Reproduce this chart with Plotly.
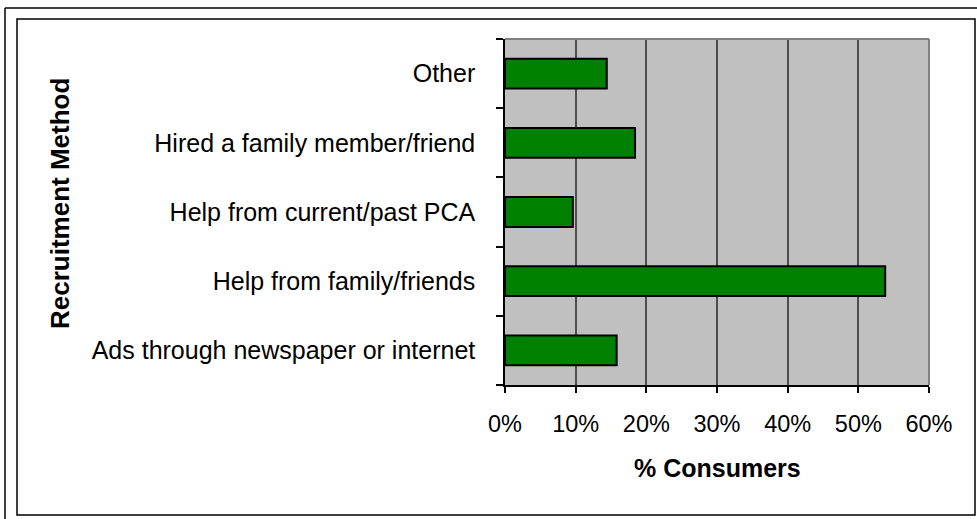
import plotly.graph_objects as go

categories = ["Ads through newspaper or internet", "Help from family/friends",
              "Help from current/past PCA", "Hired a family member/friend", "Other"]
values = [0.158, 0.538, 0.096, 0.184, 0.144]
x_ticks = [0, 0.1, 0.2, 0.3, 0.4, 0.5, 0.6]
x_tick_labels = ["0%", "10%", "20%", "30%", "40%", "50%", "60%"]

W, H = 977, 519
L, R, T, B = 505, 48, 39, 134
pw, ph = W - L - R, H - T - B

def px(x):
    return (x - L) / pw

def py(y):
    return 1 - (y - T) / ph

FONT = "Liberation Sans, Arial, sans-serif"

fig = go.Figure(go.Bar(
    y=categories, x=values, orientation="h",
    marker=dict(color="#008000", line=dict(color="#000000", width=2)),
    width=0.43,
))

shapes = []
shapes.append(dict(type="line", xref="paper", yref="paper", x0=0, x1=1, y0=1, y1=1,
                   line=dict(color="#808080", width=2)))
shapes.append(dict(type="line", xref="paper", yref="paper", x0=1, x1=1, y0=0, y1=1,
                   line=dict(color="#808080", width=2)))
shapes.append(dict(type="rect", xref="paper", yref="paper",
                   x0=px(17), x1=px(975), y0=py(515), y1=py(19),
                   line=dict(color="#000000", width=1.5), layer="below"))
shapes.append(dict(type="line", xref="paper", yref="paper",
                   x0=px(5), x1=px(977), y0=py(8), y1=py(8),
                   line=dict(color="#000000", width=1.5)))
shapes.append(dict(type="line", xref="paper", yref="paper",
                   x0=px(5), x1=px(5), y0=py(8), y1=py(519),
                   line=dict(color="#000000", width=1.5)))

fig.update_layout(
    width=W, height=H,
    margin=dict(l=L, r=R, t=T, b=B),
    paper_bgcolor="#ffffff",
    plot_bgcolor="#C0C0C0",
    showlegend=False,
    font=dict(family=FONT, size=24, color="#000000"),
    shapes=shapes,
    xaxis=dict(
        range=[0, 0.6], tickvals=x_ticks, ticktext=x_tick_labels,
        showgrid=True, gridcolor="#4d4d4d", gridwidth=1.5,
        ticks="outside", ticklen=6, tickcolor="#000000", tickwidth=1.5,
        showline=True, linecolor="#000000", linewidth=1.5,
        zeroline=False, fixedrange=True,
        tickfont=dict(size=23.5), ticklabelstandoff=11,
    ),
    yaxis=dict(
        tickson="boundaries", ticks="outside", ticklen=7, tickcolor="#000000", tickwidth=1.5,
        showline=True, linecolor="#000000", linewidth=1.5,
        showgrid=False, zeroline=False, fixedrange=True,
        tickfont=dict(size=25), ticklabelstandoff=23,
    ),
)

fig.add_annotation(text="<b>Recruitment Method</b>", xref="paper", yref="paper",
                   x=px(60), y=py(204), showarrow=False, textangle=-90,
                   xanchor="center", yanchor="middle",
                   font=dict(size=26, family=FONT))
fig.add_annotation(text="<b>% Consumers</b>", xref="paper", yref="paper",
                   x=0.5, y=py(468), showarrow=False,
                   xanchor="center", yanchor="middle",
                   font=dict(size=25, family=FONT))

fig.write_html("out.html", config={"displayModeBar": False},
               post_script="document.body.style.margin='0';")
